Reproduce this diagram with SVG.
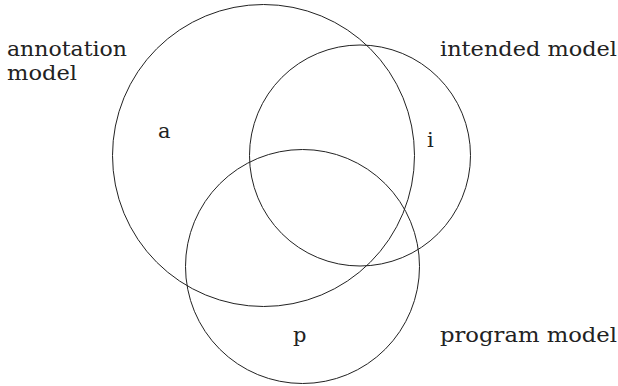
<svg xmlns="http://www.w3.org/2000/svg" width="618" height="386" viewBox="0 0 618 386">
<style>
.c{fill:none;stroke:#222;stroke-width:1}
text{font-family:"DejaVu Serif","Liberation Serif",serif;font-size:21px;fill:#222}
</style>
<rect width="618" height="386" fill="#fff"/>
<g id="annotation">
<circle class="c" cx="263.5" cy="155.5" r="151"/>
<text x="158" y="138">a</text>
<text x="7" y="56" textLength="120" lengthAdjust="spacingAndGlyphs">annotation</text>
<text x="7" y="80" textLength="70" lengthAdjust="spacingAndGlyphs">model</text>
</g>
<g id="intended">
<circle class="c" cx="360" cy="155.5" r="110.5"/>
<text x="427" y="147">i</text>
<text x="440" y="56" textLength="177" lengthAdjust="spacingAndGlyphs">intended model</text>
</g>
<g id="program">
<circle class="c" cx="302.5" cy="266.5" r="117"/>
<text x="293" y="342">p</text>
<text x="440" y="342" textLength="177" lengthAdjust="spacingAndGlyphs">program model</text>
</g>
<g id="connectors"></g>
</svg>
